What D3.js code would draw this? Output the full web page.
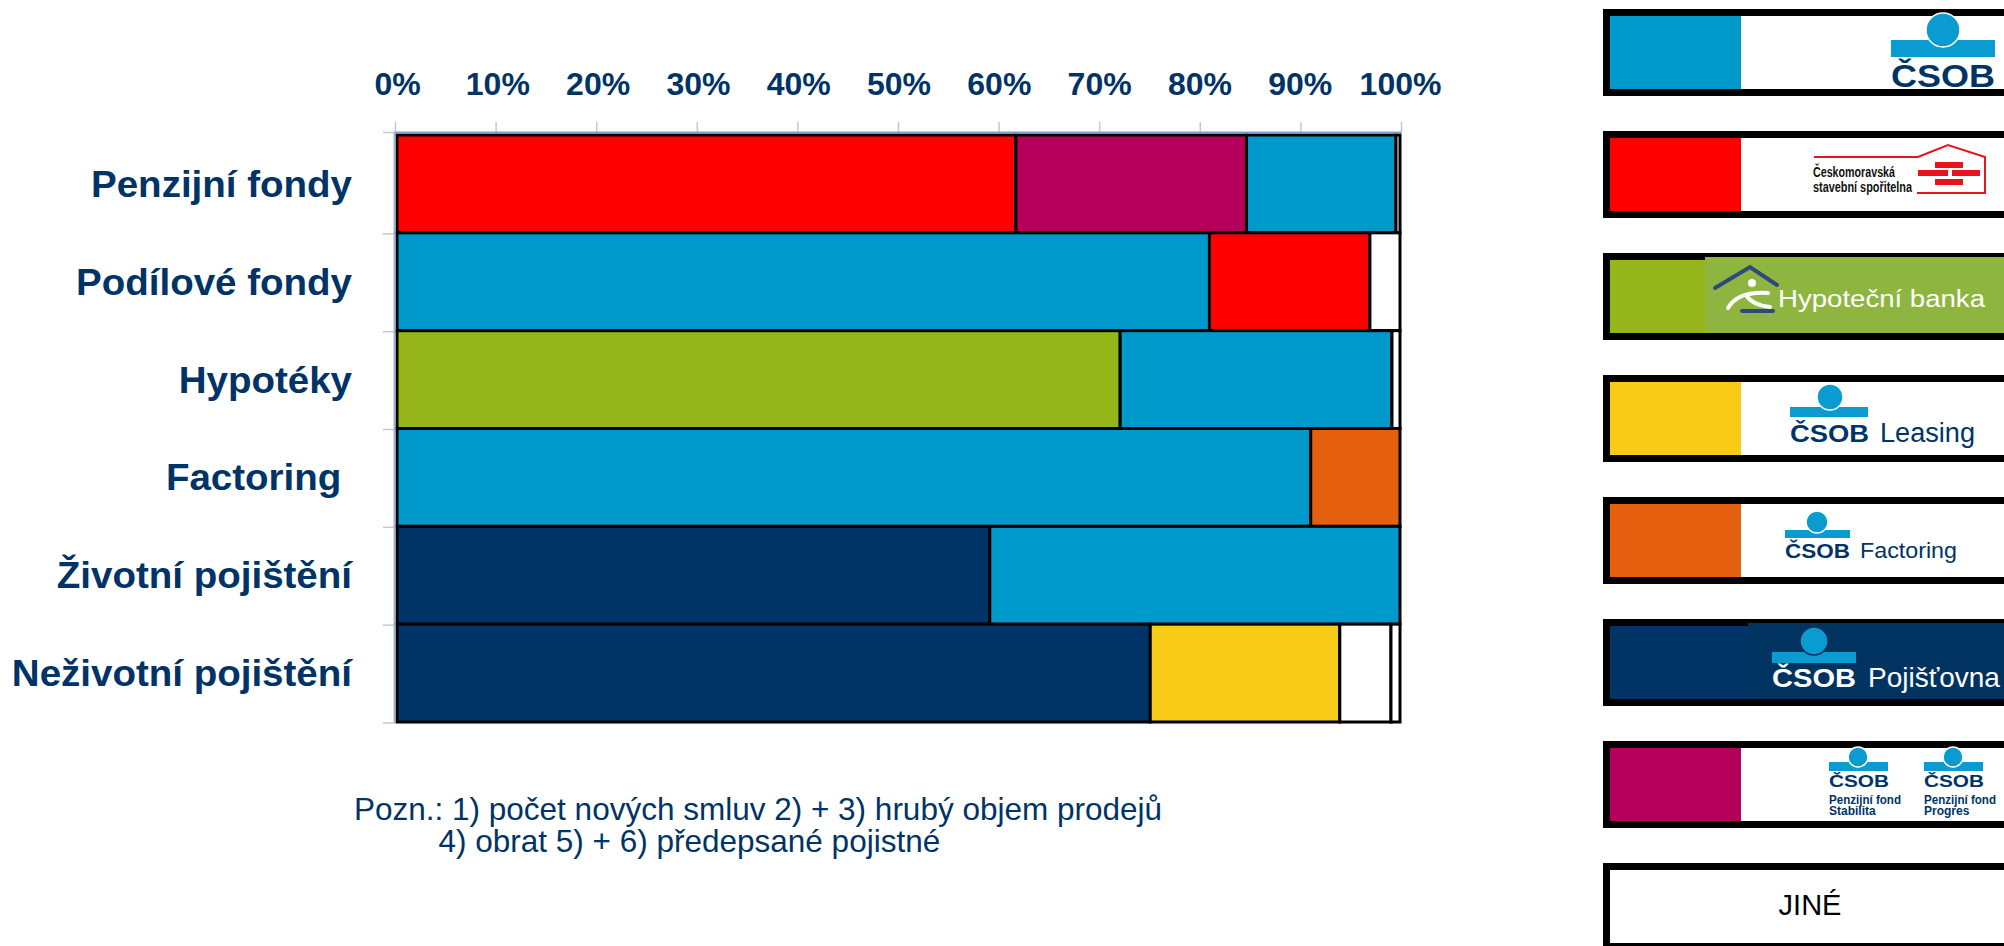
<!DOCTYPE html>
<html>
<head>
<meta charset="utf-8">
<script src="https://cdn.jsdelivr.net/npm/d3@7"></script>
<style>
  html, body { margin: 0; padding: 0; background: #ffffff; }
  svg { display: block; }
  text { font-family: "Liberation Sans", Arial, sans-serif; }
</style>
</head>
<body>
<svg id="chart" width="2004" height="946"></svg>
<script>
// ---------------- DATA ----------------
const categories = ["Penzijní fondy", "Podílové fondy", "Hypotéky", "Factoring ", "Životní pojištění", "Neživotní pojištění"];
const tickValues = [0, 10, 20, 30, 40, 50, 60, 70, 80, 90, 100];
const tickLabels = ["0%", "10%", "20%", "30%", "40%", "50%", "60%", "70%", "80%", "90%", "100%"];

// series keys
const seriesKeys = ["ČSOB", "ČMSS", "HB", "Leasing", "Factoring", "Pojišťovna", "PF", "JINÉ"];

// segments per category, in stacking order (share in %)
const penzijniFondy      = [["ČMSS", 61.7], ["PF", 23.0], ["ČSOB", 14.9], ["JINÉ", 0.4]];
const podiloveFondy      = [["ČSOB", 81.0], ["ČMSS", 16.0], ["JINÉ", 3.0]];
const hypoteky           = [["HB", 72.1], ["ČSOB", 27.1], ["JINÉ", 0.8]];
const factoring          = [["ČSOB", 91.1], ["Factoring", 8.9]];
const zivotniPojisteni   = [["Pojišťovna", 59.1], ["ČSOB", 40.9]];
const nezivotniPojisteni = [["Pojišťovna", 75.1], ["Leasing", 18.9], ["JINÉ", 5.1], ["JINÉ", 0.9]];
const rows = [penzijniFondy, podiloveFondy, hypoteky, factoring, zivotniPojisteni, nezivotniPojisteni];

const footnoteLines = ["Pozn.: 1) počet nových smluv 2) + 3) hrubý objem prodejů", "4) obrat 5) + 6) předepsané pojistné"];

// ---------------- STYLE ----------------
const colors = {
  "ČSOB": "#0099CC", "ČMSS": "#FF0000", "HB": "#95B51A", "Leasing": "#F8CB18",
  "Factoring": "#E5600E", "Pojišťovna": "#003366", "PF": "#B4005A", "JINÉ": "#FFFFFF"
};
const navy = "#003366";

const svg = d3.select("#chart");
svg.append("rect").attr("width", 2004).attr("height", 946).attr("fill", "#fff");

const x = d3.scaleLinear().domain([0, 100]).range([397, 1400]);
const y = d3.scaleBand().domain(categories).range([135, 722]).padding(0);

// tick marks above plot (gray)
svg.append("g").selectAll("line").data(tickValues).join("line")
  .attr("x1", d => x(d) - 1.5 + (d / 100) * 3).attr("x2", d => x(d) - 1.5 + (d / 100) * 3)
  .attr("y1", 122).attr("y2", 133)
  .attr("stroke", "#c8c8c8").attr("stroke-width", 1.5);

// top axis labels via d3 axis
const axis = d3.axisTop(x).tickValues(tickValues).tickFormat((d, i) => tickLabels[i])
  .tickSize(0).tickPadding(38);
const gAxis = svg.append("g").attr("transform", "translate(0,132.5)").call(axis);
gAxis.select(".domain").remove();
gAxis.selectAll("text")
  .attr("font-family", "'Liberation Sans', Arial, sans-serif")
  .attr("font-weight", "bold").attr("font-size", 32).attr("fill", navy);

// left boundary ticks
const bounds = categories.map(c => y(c)).concat([y.range()[1]]);
svg.append("g").selectAll("line").data(bounds).join("line")
  .attr("x1", 383).attr("x2", 395)
  .attr("y1", (d, i) => i === 0 ? 132.5 : d + 1).attr("y2", (d, i) => i === 0 ? 132.5 : d + 1)
  .attr("stroke", "#c8c8c8").attr("stroke-width", 1.5);

// bars
const gBars = svg.append("g");
rows.forEach((segs, ri) => {
  let acc = 0;
  const stacked = segs.map(([k, v]) => { const s = { key: k, x0: acc, x1: acc + v }; acc += v; return s; });
  gBars.selectAll(null).data(stacked).join("rect")
    .attr("x", d => x(d.x0))
    .attr("y", y(categories[ri]))
    .attr("width", d => x(d.x1) - x(d.x0))
    .attr("height", y.bandwidth())
    .attr("fill", d => colors[d.key])
    .attr("stroke", "#000").attr("stroke-width", 3);
});

// axis lines (bluish)
svg.append("line").attr("x1", 394.5).attr("x2", 1401.5).attr("y1", 132.5).attr("y2", 132.5)
  .attr("stroke", "#7f9fd0").attr("stroke-width", 2);
svg.append("line").attr("x1", 394.5).attr("x2", 394.5).attr("y1", 132.5).attr("y2", 723)
  .attr("stroke", "#9fb3d3").attr("stroke-width", 2);

// category labels
const hs = 1.07;
svg.append("g").selectAll("text").data(categories).join("text")
  .attr("transform", d => `translate(352,${y(d) + y.bandwidth() / 2 + 13}) scale(${hs},1)`)
  .attr("text-anchor", "end")
  .attr("font-weight", "bold").attr("font-size", 36).attr("fill", navy)
  .style("white-space", "pre")
  .text(d => d);

// footnote
svg.append("g").selectAll("text").data(footnoteLines).join("text")
  .attr("x", (d, i) => i === 0 ? 354 : 438.5)
  .attr("y", (d, i) => 820 + i * 32)
  .attr("font-size", 31.5).attr("fill", navy)
  .text(d => d);

// ---------------- LEGEND ----------------
const legendNames = ["ČSOB", "Českomoravská stavební spořitelna", "Hypoteční banka", "ČSOB Leasing", "ČSOB Factoring", "ČSOB Pojišťovna", "ČSOB Penzijní fond", "JINÉ"];
const legendKeys = ["ČSOB", "ČMSS", "HB", "Leasing", "Factoring", "Pojišťovna", "PF", "JINÉ"];
const lg = svg.append("g");
const boxTop = i => 9 + i * 122;

function mark(g, cx, cy, r, bx0, bx1, by0, by1, gap) {
  g.append("rect").attr("x", bx0).attr("y", by0).attr("width", bx1 - bx0).attr("height", by1 - by0).attr("fill", "#0a9bd0");
  g.append("circle").attr("cx", cx).attr("cy", cy).attr("r", r).attr("fill", "#0a9bd0")
    .attr("stroke", gap).attr("stroke-width", 1.5);
}
function txt(g, s, xx, yy, size, opts = {}) {
  const t = g.append("text").attr("x", xx).attr("y", yy).attr("font-size", size)
    .attr("fill", opts.fill || navy)
    .attr("font-family", opts.family || "'Liberation Sans', Arial, sans-serif")
    .attr("font-weight", opts.weight || "normal")
    .text(s);
  if (opts.len) t.attr("textLength", opts.len).attr("lengthAdjust", "spacingAndGlyphs");
  if (opts.anchor) t.attr("text-anchor", opts.anchor);
  return t;
}
const logoFont = "'DejaVu Sans', sans-serif";
const humanist = "'Open Sans', 'DejaVu Sans', sans-serif";

legendKeys.forEach((k, i) => {
  const oy = boxTop(i);
  const g = lg.append("g");
  g.append("rect").attr("x", 1606.5).attr("y", oy + 3.5).attr("width", 420).attr("height", 80)
    .attr("fill", "#fff").attr("stroke", "#000").attr("stroke-width", 7);
  if (k !== "JINÉ") {
    const sw = k === "Pojišťovna" ? 140 : 131;
    g.append("rect").attr("x", 1610).attr("y", oy + 7).attr("width", sw).attr("height", 73).attr("fill", colors[k]);
  }
  if (k === "ČSOB") {
    mark(g, 1943, oy + 21, 17, 1891, 1995, oy + 31, oy + 48, "#fff");
    txt(g, "ČSOB", 1891, oy + 78, 31, { weight: "bold", family: logoFont, len: 104 });
  } else if (k === "ČMSS") {
    txt(g, "Českomoravská", 1813, oy + 46, 14, { weight: "bold", family: "'Liberation Sans Narrow', 'Liberation Sans', sans-serif", len: 82, fill: "#111" });
    txt(g, "stavební spořitelna", 1813, oy + 61, 14, { weight: "bold", family: "'Liberation Sans Narrow', 'Liberation Sans', sans-serif", len: 99, fill: "#111" });
    g.append("path").attr("d", `M1814,${oy + 26} H1918 L1948,${oy + 14} L1985,${oy + 26} V${oy + 62} H1917`)
      .attr("fill", "none").attr("stroke", "#e8141c").attr("stroke-width", 2);
    [[1935, 31, 28], [1918, 39, 30], [1952, 39, 28], [1935, 48, 28]].forEach(([bx, by, bw]) => {
      g.append("rect").attr("x", bx).attr("y", oy + by).attr("width", bw).attr("height", 6).attr("fill", "#e8141c");
    });
  } else if (k === "HB") {
    g.append("rect").attr("x", 1705).attr("y", oy + 4).attr("width", 300).attr("height", 76).attr("fill", "#8fb541");
    g.append("path").attr("d", `M1715,${oy + 35} L1750,${oy + 14} L1777,${oy + 32}`)
      .attr("fill", "none").attr("stroke", "#2d4a7c").attr("stroke-width", 4).attr("stroke-linecap", "round");
    g.append("line").attr("x1", 1742).attr("x2", 1773).attr("y1", oy + 58).attr("y2", oy + 58)
      .attr("stroke", "#2d4a7c").attr("stroke-width", 4).attr("stroke-linecap", "round");
    g.append("circle").attr("cx", 1752).attr("cy", oy + 30).attr("r", 4).attr("fill", "#fff");
    g.append("path").attr("d", `M1728,${oy + 55} Q1738,${oy + 38} 1768,${oy + 40} M1746,${oy + 42} Q1752,${oy + 52} 1770,${oy + 54}`)
      .attr("fill", "none").attr("stroke", "#fff").attr("stroke-width", 4).attr("stroke-linecap", "round");
    txt(g, "Hypoteční banka", 1778, oy + 54, 23, { family: humanist, len: 207, fill: "#fff" });
  } else if (k === "Leasing") {
    mark(g, 1830, oy + 22, 13, 1790, 1868, oy + 32, oy + 42, "#fff");
    txt(g, "ČSOB", 1790, oy + 67, 24, { weight: "bold", family: logoFont, len: 79 });
    txt(g, "Leasing", 1880, oy + 67, 27, { family: humanist, len: 95 });
  } else if (k === "Factoring") {
    mark(g, 1817, oy + 25, 11, 1785, 1850, oy + 33, oy + 41, "#fff");
    txt(g, "ČSOB", 1785, oy + 61, 21, { weight: "bold", family: logoFont, len: 65 });
    txt(g, "Factoring", 1860, oy + 61, 22, { family: humanist, len: 97 });
  } else if (k === "Pojišťovna") {
    g.append("rect").attr("x", 1748).attr("y", oy + 4).attr("width", 260).attr("height", 76).attr("fill", "#00335f");
    mark(g, 1814, oy + 22, 14, 1772, 1856, oy + 33, oy + 44, "#00335f");
    txt(g, "ČSOB", 1772, oy + 68, 25, { weight: "bold", family: logoFont, len: 84, fill: "#fff" });
    txt(g, "Pojišťovna", 1868, oy + 68, 28, { family: humanist, fill: "#fff" });
  } else if (k === "PF") {
    [[1829, "Stabilita"], [1924, "Progres"]].forEach(([lx, nm]) => {
      mark(g, lx + 29, oy + 16, 10, lx, lx + 59, oy + 21, oy + 30, "#fff");
      txt(g, "ČSOB", lx, oy + 46, 16, { weight: "bold", family: logoFont, len: 60 });
      txt(g, "Penzijní fond", lx, oy + 63, 12, { weight: "bold", family: humanist, len: 72 });
      txt(g, nm, lx, oy + 74, 12, { weight: "bold", family: humanist });
    });
  } else if (k === "JINÉ") {
    txt(g, "JINÉ", 1810, oy + 52, 29, { fill: "#000", anchor: "middle" });
  }
  g.append("title").text(legendNames[i]);
});
</script>
</body>
</html>
